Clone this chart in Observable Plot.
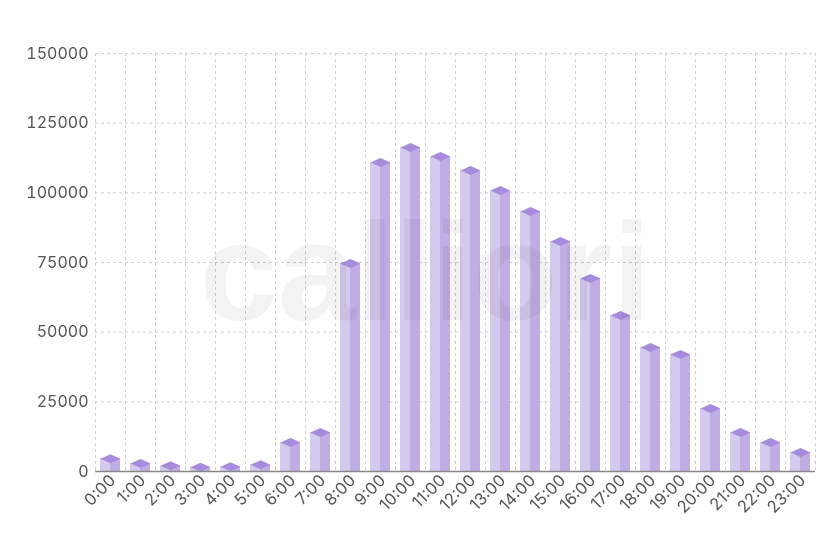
<!DOCTYPE html>
<html>
<head>
<meta charset="utf-8">
<script src="https://cdn.jsdelivr.net/npm/d3@7"></script>
<script src="https://cdn.jsdelivr.net/npm/@observablehq/plot@0.6"></script>
<style>
  html, body { margin: 0; padding: 0; background: #fff; }
  #chart { width: 840px; height: 560px; }
</style>
</head>
<body>
<div id="chart"></div>
<script>
const hours = ["0:00","1:00","2:00","3:00","4:00","5:00","6:00","7:00","8:00","9:00","10:00","11:00",
  "12:00","13:00","14:00","15:00","16:00","17:00","18:00","19:00","20:00","21:00","22:00","23:00"];
const values = [4600, 2900, 2100, 1500, 1700, 2400, 10400, 14000, 74600, 110900, 116300, 113000,
  108000, 100800, 93300, 82500, 69300, 56000, 44500, 42000, 22600, 14000, 10400, 6800];
const yTicks = [0, 25000, 50000, 75000, 100000, 125000, 150000];
const watermark = "calliori";

const data = hours.map((h, i) => ({hour: h, value: values[i]}));

const leftFace = "#d4c9ee";
const rightFace = "#c0ade4";
const topFace = "#a78bdc";
const gridColor = "#cfcfcf";

const diamond = {
  draw(ctx) {
    ctx.moveTo(-10, 0);
    ctx.lineTo(0, -4.5);
    ctx.lineTo(10, 0);
    ctx.lineTo(0, 4.5);
    ctx.closePath();
  }
};

const chart = Plot.plot({
  width: 840,
  height: 560,
  marginTop: 53,
  marginBottom: 89,
  marginLeft: 95,
  marginRight: 25,
  style: {fontFamily: "Inter, 'Liberation Sans', sans-serif", fontSize: "16px", color: "#555", background: "#fff"},
  x: {type: "band", domain: hours, paddingInner: 1/3, paddingOuter: 1/6, axis: null},
  y: {domain: [0, 150000], axis: null},
  marks: [
    Plot.gridY(yTicks, {stroke: gridColor, strokeOpacity: 1, strokeDasharray: "3,3"}),
    Plot.ruleX(hours, {x: d => d, dx: -15, stroke: gridColor, strokeDasharray: "3,3"}),
    Plot.ruleX([hours[hours.length - 1]], {x: d => d, dx: 15, stroke: gridColor, strokeDasharray: "3,3"}),
    Plot.barY(data, {x: "hour", y: "value", fill: leftFace, insetRight: 10}),
    Plot.barY(data, {x: "hour", y: "value", fill: rightFace, insetLeft: 10}),
    Plot.dot(data, {x: "hour", y: "value", symbol: diamond, fill: topFace, stroke: "none"}),
    Plot.text([watermark], {
      frameAnchor: "middle", text: d => d, fontSize: 140, fontWeight: "bold",
      fontFamily: "'Liberation Sans', Arial, sans-serif",
      fill: "#f3f3f3", mixBlendMode: "multiply", dx: -30, dy: 13
    }),
    Plot.ruleY([0], {stroke: "#888", strokeWidth: 1.5}),
    Plot.axisY(yTicks, {label: null, tickSize: 0, tickPadding: 7, tickFormat: d => String(d), fontSize: 16, fill: "#555"}),
    Plot.text(hours, {
      x: d => d, frameAnchor: "bottom", rotate: -45, textAnchor: "end",
      dx: 6, dy: 10, fontSize: 16.5, fill: "#555"
    })
  ]
});

document.getElementById("chart").appendChild(chart);
</script>
</body>
</html>
